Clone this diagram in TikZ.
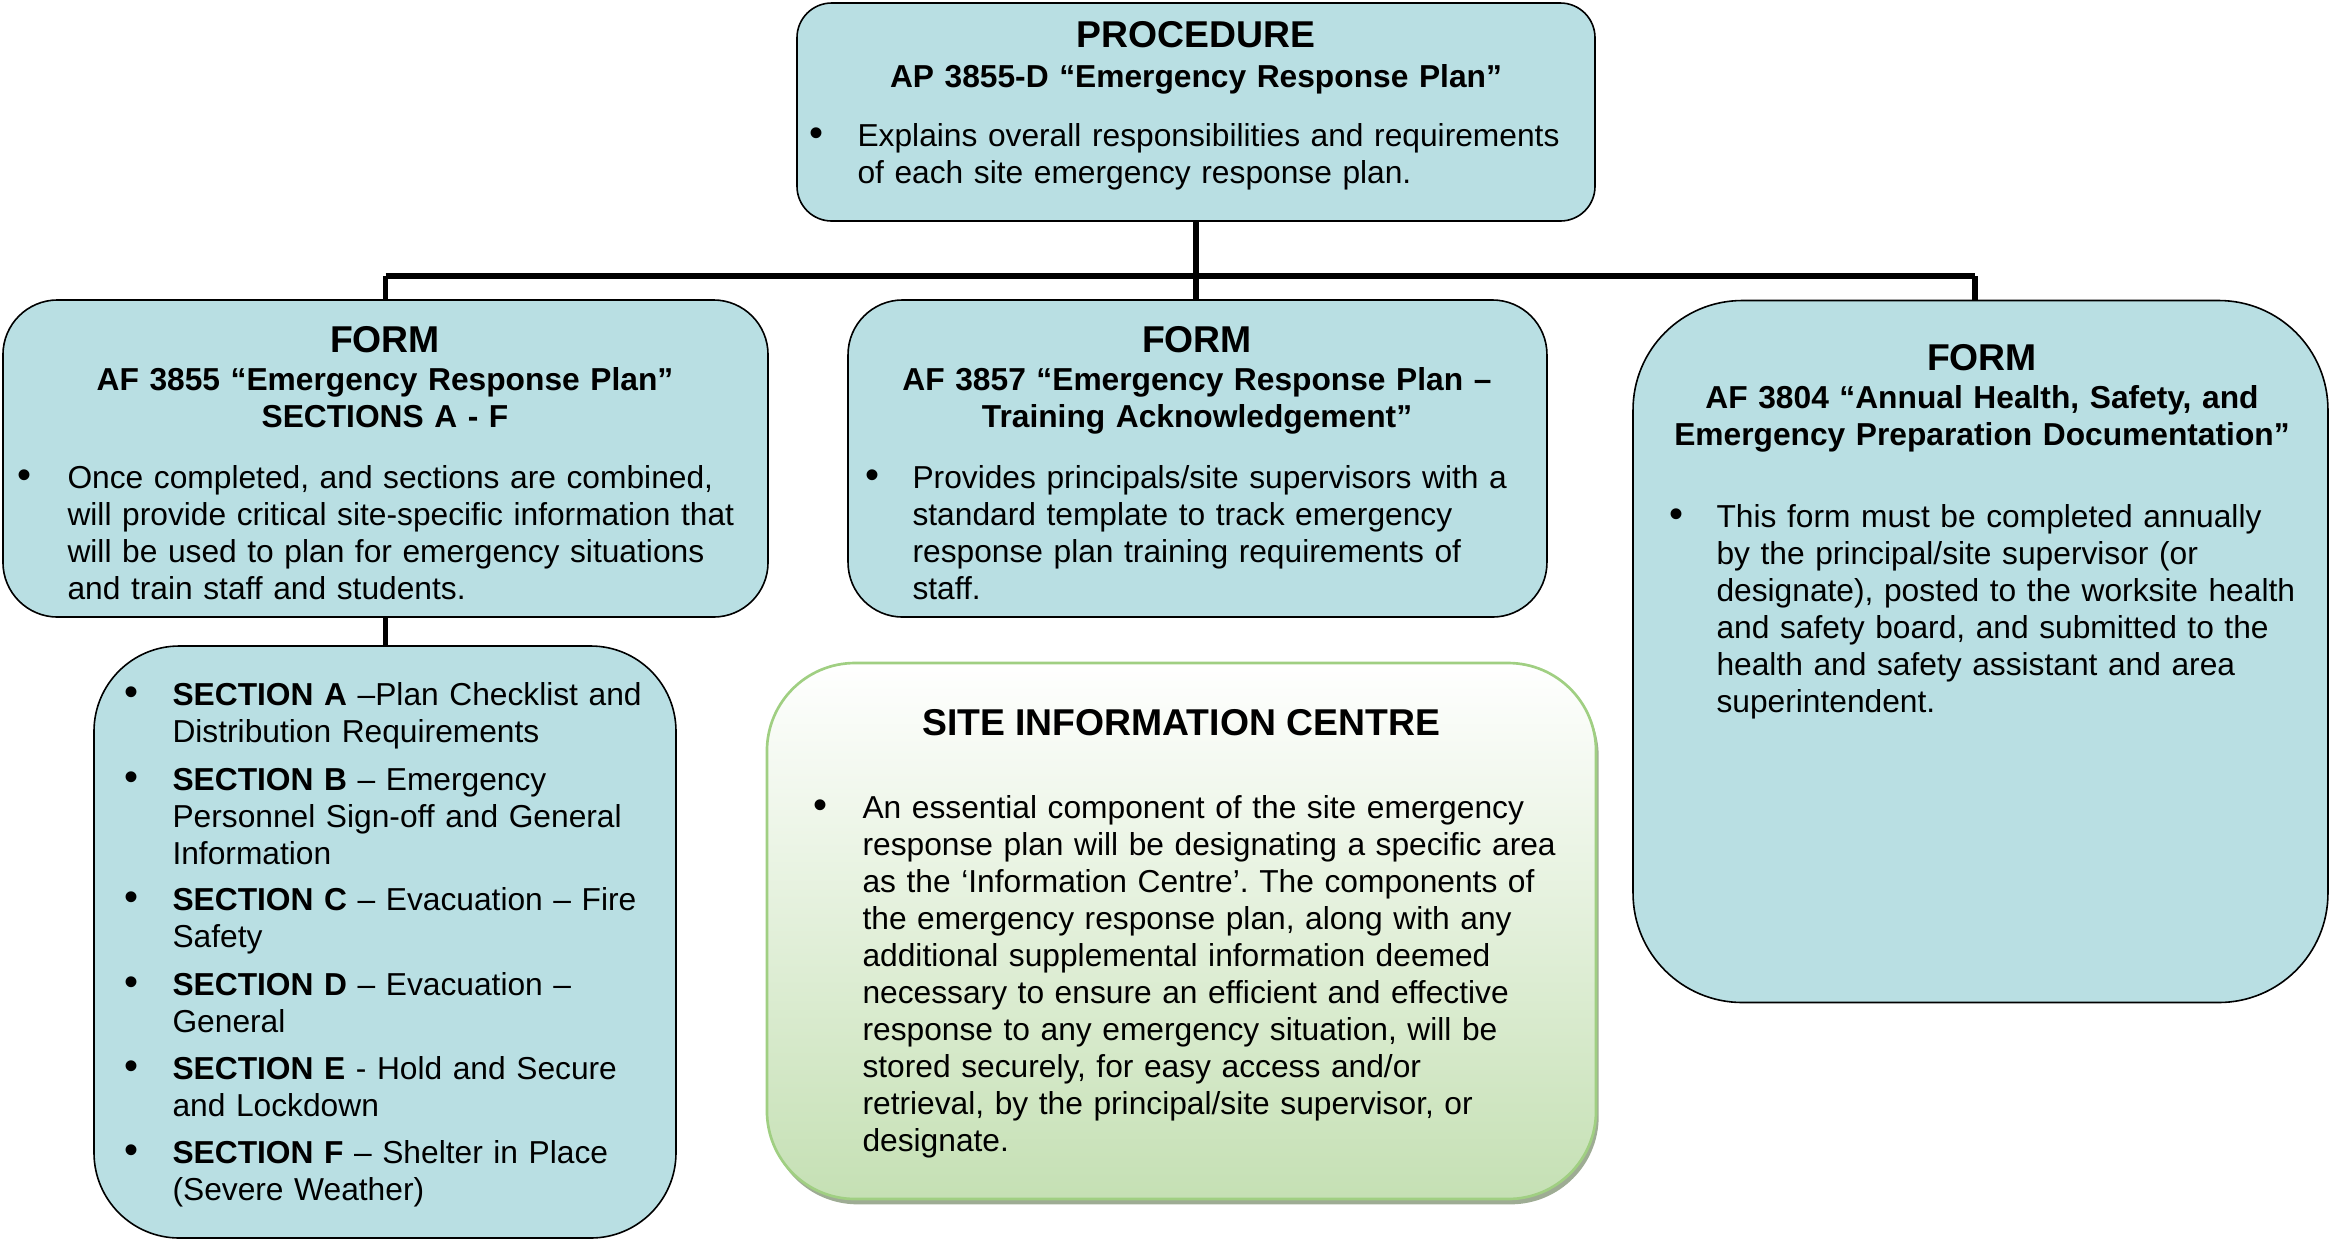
\documentclass[tikz,border=0pt]{standalone}
\usepackage{fontspec}
\setmainfont{Liberation Sans}
\usetikzlibrary{shadows}

\definecolor{boxblue}{RGB}{185,223,227}
\definecolor{sicgreen}{RGB}{197,224,180}
\definecolor{sicedge}{RGB}{160,207,130}
\definecolor{sicshadow}{RGB}{158,172,148}

\tikzset{
  bluebox/.style={rectangle, draw=black, line width=0.6pt, fill=boxblue, inner sep=0pt},
  greenbox/.style={rectangle, draw=sicedge, line width=1pt, top color=white, bottom color=sicgreen,
    inner sep=0pt, rounded corners=33pt,
    drop shadow={shadow xshift=1pt, shadow yshift=-2pt, fill=sicshadow, opacity=1}},
  conn/.style={line width=2pt, draw=black},
  bus/.style={line width=2.3pt, draw=black},
  bodytext/.style={anchor=base west, inner sep=0pt, align=left,
    font=\frenchspacing\fontsize{11.9}{13.875}\selectfont},
  headtext/.style={anchor=base, inner sep=0pt, align=center,
    font=\bfseries\fontsize{11.9}{13.875}\selectfont},
  titletext/.style={anchor=base, inner sep=0pt, font=\bfseries\fontsize{14}{16}\selectfont},
  bulletdot/.style={anchor=base, inner sep=0pt, font=\fontsize{15}{13.875}\selectfont},
}

\begin{document}
\begin{tikzpicture}[x=0.375pt, y=-0.375pt]
\useasboundingbox (0,0) rectangle (2330,1241);

% ---------- boxes ----------
\node[bluebox, rounded corners=13pt, minimum width=299.25pt, minimum height=81.75pt] (proc) at (1196,112) {};
\node[bluebox, rounded corners=20.5pt, minimum width=286.9pt, minimum height=118.9pt] (formL) at (385.5,458.5) {};
\node[bluebox, rounded corners=20.5pt, minimum width=262.1pt, minimum height=118.9pt] (formM) at (1197.5,458.5) {};
\node[bluebox, rounded corners=41pt, minimum width=260.6pt, minimum height=263.25pt] (formR) at (1980.5,651.5) {};
\node[bluebox, rounded corners=32pt, minimum width=218.25pt, minimum height=222pt] (sect) at (385,942) {};
\node[greenbox, minimum width=310.9pt, minimum height=201pt] (sic) at (1181.5,931) {};

% ---------- connectors ----------
\coordinate (busline) at (0,276);
\coordinate (rightdrop) at (1975,0);
\draw[bus] (proc.south) -- (proc.south |- formM.north);
\draw[bus] (formL.north |- busline) -- (rightdrop |- busline);
\draw[conn] (formL.north |- busline) -- (formL.north);
\draw[conn] (rightdrop |- busline) -- (rightdrop |- formR.north);
\draw[conn] (formL.south) -- (formL.south |- sect.north);

% ---------- procedure ----------
\node[titletext] (procT) at (1196,47) {PROCEDURE};
\node[headtext, text width=290pt] (procH) at (1196,87) {AP 3855-D “Emergency Response Plan”};
\node[bulletdot] (procB) at (816,146) {\textbullet};
\node[bodytext, text width=268pt] (procX) at (857,146)
  {Explains overall responsibilities and requirements\\of each site emergency response plan.};

% ---------- form AF 3855 ----------
\node[titletext] (formLT) at (385,352) {FORM};
\node[headtext, text width=270pt] (formLH) at (385,390)
  {AF 3855 “Emergency Response Plan”\\SECTIONS A - F};
\node[bulletdot] (formLB) at (25,488) {\textbullet};
\node[bodytext, text width=262pt] (formLX) at (67,488)
  {Once completed, and sections are combined,\\will provide critical site-specific information that\\will be used to plan for emergency situations\\and train staff and students.};

% ---------- form AF 3857 ----------
\node[titletext] (formMT) at (1197,352) {FORM};
\node[headtext, text width=255pt] (formMH) at (1197,390)
  {AF 3857 “Emergency Response Plan –\\Training Acknowledgement”};
\node[bulletdot] (formMB) at (872,488) {\textbullet};
\node[bodytext, text width=236pt] (formMX) at (912,488)
  {Provides principals/site supervisors with a\\standard template to track emergency\\response plan training requirements of\\staff.};

% ---------- form AF 3804 ----------
\node[titletext] (formRT) at (1982,370) {FORM};
\node[headtext, text width=250pt] (formRH) at (1982,408)
  {AF 3804 “Annual Health, Safety, and\\Emergency Preparation Documentation”};
\node[bulletdot] (formRB) at (1676,527) {\textbullet};
\node[bodytext, text width=225pt] (formRX) at (1716,527)
  {This form must be completed annually\\by the principal/site supervisor (or\\designate), posted to the worksite health\\and safety board, and submitted to the\\health and safety assistant and area\\superintendent.};

% ---------- sections A - F ----------
\node[bulletdot] (sAB) at (132,705) {\textbullet};
\node[bodytext, text width=180pt] (sAX) at (172,705) {\textbf{SECTION A} –Plan Checklist and\\Distribution Requirements};
\node[bulletdot] (sBB) at (132,790) {\textbullet};
\node[bodytext, text width=180pt] (sBX) at (172,790) {\textbf{SECTION B} – Emergency\\Personnel Sign-off and General\\Information};
\node[bulletdot] (sCB) at (132,910) {\textbullet};
\node[bodytext, text width=180pt] (sCX) at (172,910) {\textbf{SECTION C} – Evacuation – Fire\\Safety};
\node[bulletdot] (sDB) at (132,995) {\textbullet};
\node[bodytext, text width=180pt] (sDX) at (172,995) {\textbf{SECTION D} – Evacuation –\\General};
\node[bulletdot] (sEB) at (132,1079) {\textbullet};
\node[bodytext, text width=180pt] (sEX) at (172,1079) {\textbf{SECTION E} - Hold and Secure\\and Lockdown};
\node[bulletdot] (sFB) at (132,1163) {\textbullet};
\node[bodytext, text width=180pt] (sFX) at (172,1163) {\textbf{SECTION F} – Shelter in Place\\(Severe Weather)};

% ---------- site information centre ----------
\node[titletext] (sicT) at (1181,735) {SITE INFORMATION CENTRE};
\node[bulletdot] (sicB) at (820,818) {\textbullet};
\node[bodytext, text width=268pt] (sicX) at (862,818)
  {An essential component of the site emergency\\response plan will be designating a specific area\\as the ‘Information Centre’. The components of\\the emergency response plan, along with any\\additional supplemental information deemed\\necessary to ensure an efficient and effective\\response to any emergency situation, will be\\stored securely, for easy access and/or\\retrieval, by the principal/site supervisor, or\\designate.};

\end{tikzpicture}
\end{document}
